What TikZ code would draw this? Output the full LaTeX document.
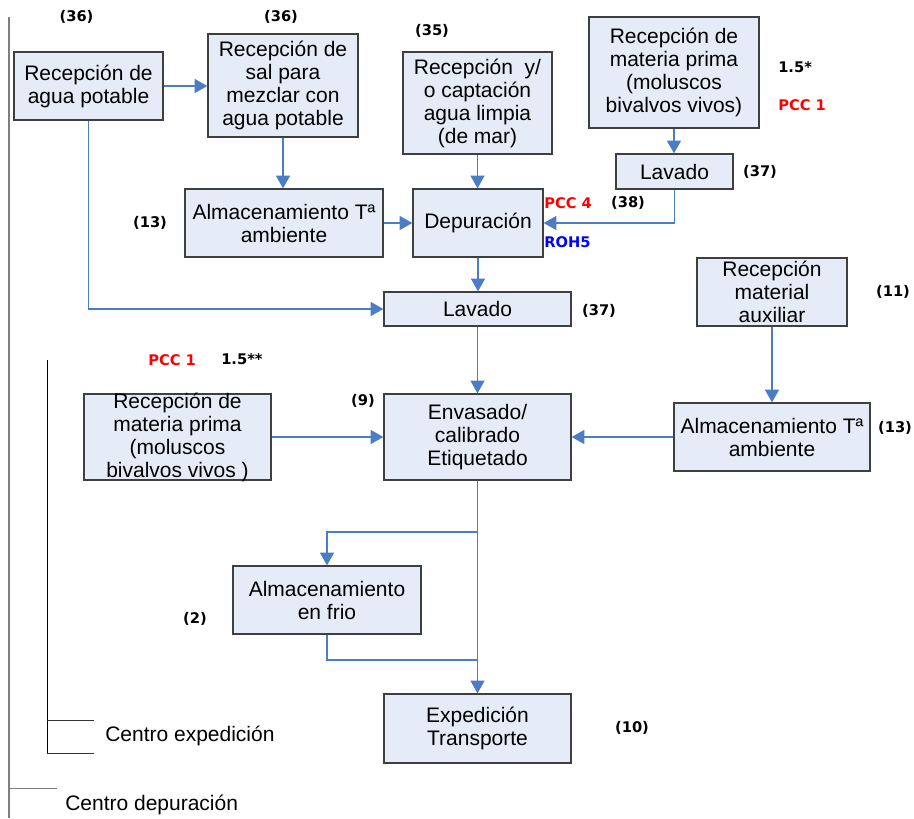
\documentclass[tikz,border=0pt]{standalone}
\usepackage{fontspec}
\setmainfont{Liberation Sans}
\newfontfamily\lblfont{DejaVu Sans}
\usepackage{xcolor}
\definecolor{BoxFill}{HTML}{E6ECF7}
\definecolor{BoxLine}{HTML}{3F3F3F}
\definecolor{FlowBlue}{HTML}{4A7DC4}
\definecolor{RuleGray}{HTML}{7F7F7F}
\definecolor{PccRed}{HTML}{FF0000}
\definecolor{RohBlue}{HTML}{0000FF}
\usetikzlibrary{arrows.meta,positioning}
\newcommand\pxu{0.75pt}

\begin{document}
\begin{tikzpicture}[x=0.75pt,y=-0.75pt]
\tikzset{
  procbox/.style={draw=BoxLine,fill=BoxFill,line width=1pt,inner sep=0pt,align=center,
    font=\fontsize{15.75}{17.25}\selectfont},
  flowline/.style={draw=FlowBlue,line width=.8pt},
  flow/.style={flowline,-{Triangle[width=10.5pt,length=9.5pt]}},
  stagelbl/.style={font=\lblfont\bfseries\fontsize{11}{12}\selectfont,inner sep=0pt},
  zonetxt/.style={anchor=west,inner sep=0pt,font=\fontsize{15.75}{17.25}\selectfont}
}
\useasboundingbox (0,0) rectangle (914,818);

% depuration centre: intake of water and shellfish
\node[procbox,minimum width=149*\pxu,minimum height=68*\pxu] (agua) at (88.5,86) {Recepción de\\agua potable};
\node[procbox,minimum width=150*\pxu,minimum height=103*\pxu] (sal) at (283,85.5) {Recepción de\\sal para\\mezclar con\\agua potable};
\node[procbox,minimum width=149*\pxu,minimum height=102*\pxu] (mar) at (477.5,103) {Recepción\ \ y/\\o captación\\agua limpia\\(de mar)};
\node[procbox,minimum width=170*\pxu,minimum height=111*\pxu] (mpdep) at (674,72.5) {Recepción de\\materia prima\\(moluscos\\bivalvos vivos)};
\node[procbox,minimum width=117*\pxu,minimum height=35*\pxu] (lavdep) at (674.5,171.5) {Lavado};
\node[procbox,minimum width=198*\pxu,minimum height=68*\pxu] (almamb) at (284,223) {Almacenamiento Tª\\ambiente};
\node[procbox,minimum width=130*\pxu,minimum height=68*\pxu] (depur) at (478,223) {Depuración};
\node[procbox,minimum width=187*\pxu,minimum height=34*\pxu] (lavado) at (477.5,309) {Lavado};

% expedition centre
\node[procbox,minimum width=150*\pxu,minimum height=68*\pxu] (auxil) at (772,292) {Recepción\\material\\auxiliar};
\node[procbox,minimum width=187*\pxu,minimum height=86*\pxu] (envas) at (477.5,437) {Envasado/\\calibrado\\Etiquetado};
\node[procbox,inner ysep=-2pt,minimum width=187*\pxu,minimum height=86*\pxu] (mpexp) at (177.5,437) {Recepción de\\materia prima\\(moluscos\\bivalvos vivos )};
\node[procbox,minimum width=196*\pxu,minimum height=68*\pxu] (almaux) at (772,437) {Almacenamiento Tª\\ambiente};
\node[procbox,minimum width=188*\pxu,minimum height=68*\pxu] (frio) at (327,600) {Almacenamiento\\en frio};
\node[procbox,minimum width=187*\pxu,minimum height=69*\pxu] (exped) at (477.5,728.5) {Expedición\\Transporte};

% stage numbers and control points
\node[stagelbl] (n36a) at (76.5,17) {(36)};
\node[stagelbl] (n36b) at (281,17) {(36)};
\node[stagelbl] (n35) at (432,31) {(35)};
\node[stagelbl,anchor=west] (n15a) at (778,67) {1.5*};
\node[stagelbl,anchor=west,text=PccRed] (pcc1a) at (778,105) {PCC 1};
\node[stagelbl] (n37a) at (760,172) {(37)};
\node[stagelbl,anchor=west,text=PccRed] (pcc4) at (544,203) {PCC 4};
\node[stagelbl] (n38) at (628,203) {(38)};
\node[stagelbl,anchor=west,text=RohBlue] (roh5) at (544,242) {ROH5};
\node[stagelbl] (n13a) at (150,223) {(13)};
\node[stagelbl] (n37b) at (599,311) {(37)};
\node[stagelbl] (n11) at (893,292) {(11)};
\node[stagelbl] (n13b) at (895,428) {(13)};
\node[stagelbl,anchor=west,text=PccRed] (pcc1b) at (148,360) {PCC 1};
\node[stagelbl,anchor=west] (n15b) at (221,359) {1.5**};
\node[stagelbl] (n9) at (363,401) {(9)};
\node[stagelbl] (n2) at (195,619) {(2)};
\node[stagelbl] (n10) at (632,728) {(10)};

% connectors
\draw[flow] (agua.east) -- (sal.west |- agua.east);
\draw[flow] (agua.south) |- (lavado.west);
\draw[flow] (sal.south) -- (sal.south |- almamb.north);
\draw[flow] (almamb.east) -- (depur.west);
\draw[flow] (mar.south) -- (mar.south |- depur.north);
\draw[flow] (mpdep.south) -- (mpdep.south |- lavdep.north);
\draw[flow] (lavdep.south) |- (depur.east);
\draw[flow] (depur.south) -- (depur.south |- lavado.north);
\draw[flow] (lavado.south) -- (envas.north);
\draw[flow] (mpexp.east) -- (envas.west);
\draw[flow] (auxil.south) -- (almaux.north);
\draw[flow] (almaux.west) -- (almaux.west -| envas.east);
\draw[flow] (envas.south) -- (exped.north);
\coordinate (split) at (477.5,532);
\coordinate (merge) at (477.5,660);
\draw[flow] (split) -| (frio.north);
\draw[flowline] (frio.south) |- (merge);

% zone brackets
\draw[RuleGray,line width=1pt] (9,17) -- (9,818);
\draw[RuleGray,line width=.7pt] (9,788) -- (57,788);
\node[zonetxt] (zdep) at (65,805) {Centro depuración};
\draw[black,line width=.6pt] (47,360) -- (47,753);
\draw[black!80,line width=.5pt] (47,720) -- (94,720);
\draw[black!80,line width=.5pt] (47,753) -- (94,753);
\node[zonetxt] (zexp) at (105,736) {Centro expedición};
\end{tikzpicture}
\end{document}
